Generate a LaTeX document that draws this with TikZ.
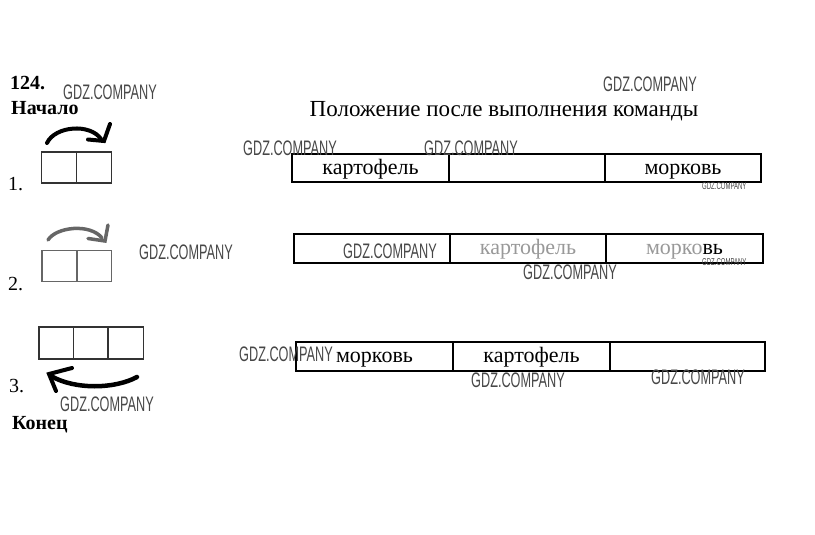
\documentclass[tikz,border=0pt]{standalone}
\usepackage{fontspec}
\setmainfont{Liberation Serif}
\newfontfamily\wmfont{Liberation Sans}
\usepackage{graphicx}
\newcommand\wmbig{\scalebox{0.605}[1]{\wmfont\fontsize{21}{21}\selectfont GDZ.COMPANY}}
\newcommand\wmsmall{\scalebox{0.6}[1]{\wmfont\fontsize{10}{10}\selectfont GDZ.COMPANY}}
\begin{document}
\begin{tikzpicture}[x=1pt,y=-1pt,
  lbl/.style={inner sep=0pt, anchor=base west, font=\fontsize{20}{20}\selectfont},
  lblb/.style={inner sep=0pt, anchor=base west, font=\bfseries\fontsize{20}{20}\selectfont},
  tcell/.style={draw, line width=1.1pt, inner sep=0pt, font=\fontsize{22}{22}\selectfont, text height=15pt, text depth=3pt},
  wm/.style={inner sep=0pt, anchor=north west, text=black!72},
  sbox/.style={draw=black!80, line width=1.5pt, inner sep=0pt, minimum width=35pt, minimum height=31pt},
  bigarrow/.style={line width=4pt, line cap=round, line join=miter},
  fade/.style={text=black!40}
]
\fill[white] (0,0) rectangle (815,535);
\useasboundingbox (0,0) rectangle (815,535);

% left labels
\node[lblb] (num) at (10,90) {124.};
\node[lblb] (start) at (11,115) {Начало};
\node[lbl] (l1) at (8,190) {1.};
\node[lbl] (l2) at (8,290) {2.};
\node[lbl] (l3) at (9,392) {3.};
\node[lblb] (end) at (12,429) {Конец};

% title
\node[inner sep=0pt, anchor=base, font=\fontsize{23}{23}\selectfont] (title) at (504,117) {Положение после выполнения команды};

% row 1 picture
\node[sbox] (b1a) at (59,167.5) {};
\node[sbox] (b1b) at (94,167.5) {};
\coordinate (a1s) at (47,143);
\coordinate (a1e) at (104,141);
\coordinate (a1l) at (88,139.5);
\coordinate (a1u) at (110,124);
\draw[bigarrow] (a1s) .. controls (55,126) and (90,123) .. (101,139);
\draw[bigarrow] (a1l) -- (a1e) -- (a1u);

% row 2 picture
\node[sbox, draw=black!60] (b2a) at (59.5,266) {};
\node[sbox, draw=black!60] (b2b) at (94,266) {};
\coordinate (a2s) at (48,240);
\coordinate (a2e) at (105,241);
\coordinate (a2l) at (88,238.5);
\coordinate (a2u) at (108,225);
\draw[bigarrow, line width=3.5pt, black!60] (a2s) .. controls (56,227) and (90,223) .. (102,238);
\draw[bigarrow, line width=3.5pt, black!60] (a2l) -- (a2e) -- (a2u);

% row 3 picture
\node[sbox, minimum width=34.5pt, minimum height=32pt] (b3a) at (56.25,343) {};
\node[sbox, minimum width=34.5pt, minimum height=32pt] (b3b) at (90.75,343) {};
\node[sbox, minimum width=35.5pt, minimum height=32pt] (b3c) at (125.75,343) {};
\coordinate (a3s) at (137,377);
\coordinate (a3e) at (49,374);
\coordinate (a3u) at (72,368);
\coordinate (a3d) at (56,391);
\draw[bigarrow, line width=4.5pt] (a3s) .. controls (115,389) and (75,390) .. (51,376);
\draw[bigarrow] (a3u) -- (a3e) -- (a3d);

% table row 1
\node[tcell, minimum width=157pt, minimum height=28pt] (r1a) at (370.5,168) {картофель};
\node[tcell, minimum width=156pt, minimum height=28pt] (r1b) at (527,168) {};
\node[tcell, minimum width=156pt, minimum height=28pt] (r1c) at (683,168) {морковь};

% table row 2
\node[tcell, minimum width=156pt, minimum height=29pt] (r2a) at (372,248.5) {};
\node[tcell, minimum width=156pt, minimum height=29pt, fade] (r2b) at (528,248.5) {картофель};
\node[tcell, minimum width=157pt, minimum height=29pt, fade] (r2c) at (684.5,248.5) {морко\textcolor{black}{вь}};

% table row 3
\node[tcell, minimum width=157pt, minimum height=29pt] (r3a) at (374.5,356.5) {морковь};
\node[tcell, minimum width=157pt, minimum height=29pt] (r3b) at (531.5,356.5) {картофель};
\node[tcell, minimum width=155pt, minimum height=29pt] (r3c) at (687.5,356.5) {};

% watermarks
\node[wm] (w1) at (63,85) {\wmbig};
\node[wm] (w2) at (603,77) {\wmbig};
\node[wm] (w3) at (243,141) {\wmbig};
\node[wm] (w4) at (424,141) {\wmbig};
\node[wm] (w5) at (702,182) {\wmsmall};
\node[wm] (w6) at (139,245) {\wmbig};
\node[wm] (w7) at (343,244) {\wmbig};
\node[wm] (w8) at (523,265) {\wmbig};
\node[wm] (w9) at (702,258.5) {\wmsmall};
\node[wm] (w10) at (239,347) {\wmbig};
\node[wm] (w11) at (471,373) {\wmbig};
\node[wm] (w12) at (651,370) {\wmbig};
\node[wm] (w13) at (60,397) {\wmbig};
\end{tikzpicture}
\end{document}
